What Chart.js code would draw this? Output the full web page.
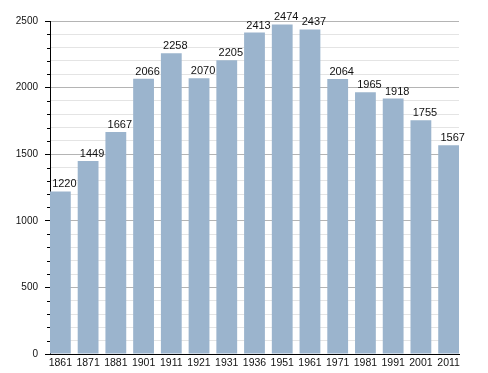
<!DOCTYPE html>
<html>
<head>
<meta charset="utf-8">
<script src="https://cdn.jsdelivr.net/npm/chart.js@4"></script>
<style>
  html, body { margin: 0; padding: 0; background: #fff; }
  #wrap { width: 488px; height: 373px; }
</style>
</head>
<body>
<div id="wrap"><canvas id="chart"></canvas></div>
<script>
// census years and population
const years = ["1861", "1871", "1881", "1901", "1911", "1921", "1931", "1936",
               "1951", "1961", "1971", "1981", "1991", "2001", "2011"];
const population = [1220, 1449, 1667, 2066, 2258, 2070, 2205, 2413,
                    2474, 2437, 2064, 1965, 1918, 1755, 1567];
const yMax = 2500;

// value written above each bar
const barLabels = {
  id: 'barLabels',
  afterDatasetsDraw(chart) {
    const ctx = chart.ctx;
    const meta = chart.getDatasetMeta(0);
    ctx.save();
    ctx.font = '11px "Liberation Sans", Arial, sans-serif';
    ctx.fillStyle = '#111';
    ctx.textAlign = 'center';
    ctx.textBaseline = 'alphabetic';
    meta.data.forEach((bar, i) => {
      ctx.fillText(population[i], bar.x + 4, bar.y - 4);
    });
    ctx.restore();
  }
};

// short minor ticks every 100
const minorTicks = {
  id: 'minorTicks',
  afterDraw(chart) {
    const ctx = chart.ctx;
    const y = chart.scales.y;
    const left = chart.chartArea.left;
    ctx.save();
    ctx.strokeStyle = '#000';
    ctx.lineWidth = 1;
    y.ticks.forEach(t => {
      if (t.value % 500 === 0) return;
      const py = Math.round(y.getPixelForValue(t.value)) + 0.5;
      ctx.beginPath();
      ctx.moveTo(left - 3, py);
      ctx.lineTo(left, py);
      ctx.stroke();
    });
    ctx.restore();
  }
};

new Chart(document.getElementById('chart'), {
  type: 'bar',
  data: {
    datasets: [{
      data: population.map((v, i) => ({ x: i, y: v })),
      backgroundColor: '#9bb4cd',
      borderWidth: 0,
      categoryPercentage: 1,
      barPercentage: 0.75
    }]
  },
  options: {
    responsive: true,
    maintainAspectRatio: false,
    animation: false,
    layout: { padding: { left: 0, right: 29, top: 21, bottom: 0 } },
    plugins: {
      legend: { display: false },
      tooltip: { enabled: false }
    },
    scales: {
      x: {
        type: 'linear',
        min: -0.374,
        max: 14.374,
        offset: false,
        grid: { display: false, drawTicks: false, offset: false },
        border: { display: true, color: '#000', width: 1 },
        ticks: {
          stepSize: 1,
          includeBounds: false,
          autoSkip: false,
          maxRotation: 0,
          padding: 3,
          color: '#111',
          font: { family: '"Liberation Sans", Arial, sans-serif', size: 10.5 },
          callback: v => years[v] ?? ''
        },
        afterFit: s => { s.height = 19; }
      },
      y: {
        min: 0,
        max: yMax,
        grid: {
          color: c => (c.tick && c.tick.value % 500 === 0) ? '#b4b4b4' : '#e4e4e4',
          tickColor: c => (c.tick && c.tick.value % 500 === 0) ? '#000' : 'rgba(0,0,0,0)',
          tickLength: 5
        },
        border: { display: true, color: '#000', width: 1 },
        ticks: {
          stepSize: 100,
          autoSkip: false,
          padding: 7,
          color: '#111',
          font: { family: '"Liberation Sans", Arial, sans-serif', size: 10 },
          callback: v => (v % 500 === 0 ? v : '')
        },
        afterFit: s => { s.width = 50; }
      }
    }
  },
  plugins: [barLabels, minorTicks]
});
</script>
</body>
</html>
